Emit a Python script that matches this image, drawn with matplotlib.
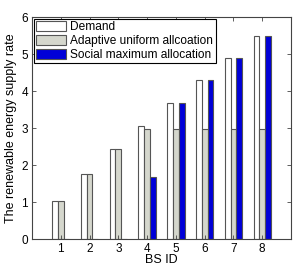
import matplotlib
matplotlib.use("Agg")
import matplotlib.pyplot as plt
import numpy as np

bs_ids = [1, 2, 3, 4, 5, 6, 7, 8]
demand = [1.03, 1.75, 2.42, 3.05, 3.67, 4.29, 4.89, 5.50]
adaptive = [1.03, 1.75, 2.42, 2.97, 2.97, 2.97, 2.97, 2.97]
social = [0.0, 0.0, 0.0, 1.68, 3.67, 4.29, 4.89, 5.50]
labels = ["Demand", "Adaptive uniform allcoation", "Social maximum allocation"]

plt.rcParams["font.family"] = ["Liberation Sans", "DejaVu Sans"]
plt.rcParams["font.size"] = 9

fig = plt.figure(figsize=(3.05, 2.66), dpi=100)
ax = fig.add_axes([0.105, 0.1015, 0.849, 0.8345])

x = np.array(bs_ids, dtype=float)
w = 0.2
edge = "#555555"
ax.bar(x - w, demand, w, color="white", edgecolor=edge, linewidth=0.8, label=labels[0])
ax.bar(x, adaptive, w, color="#d5d7cd", edgecolor=edge, linewidth=0.8, label=labels[1])
ax.bar(x + w, social, w, color="#0000d8", edgecolor=edge, linewidth=0.8, label=labels[2])

ax.set_xlim(0, 9)
ax.set_ylim(0, 6)
ax.set_xticks(bs_ids)
ax.set_yticks(range(7))
ax.tick_params(direction="in", top=True, right=True, length=3, width=0.6,
               colors="#444444", labelcolor="black", labelsize=8.5, pad=3)
for sp in ax.spines.values():
    sp.set_color("#444444")
    sp.set_linewidth(0.8)

ax.set_xlabel("BS ID", labelpad=-1)
ax.set_ylabel("The renewable energy supply rate", labelpad=3)

leg = ax.legend(loc="upper left", fancybox=False, framealpha=1, edgecolor="black",
                borderpad=0.2, labelspacing=0.15, handlelength=2.5, handleheight=0.9,
                handletextpad=0.35, borderaxespad=0.15, fontsize=8.6)
leg.get_frame().set_linewidth(0.8)

fig.savefig("out.png", dpi=100)
